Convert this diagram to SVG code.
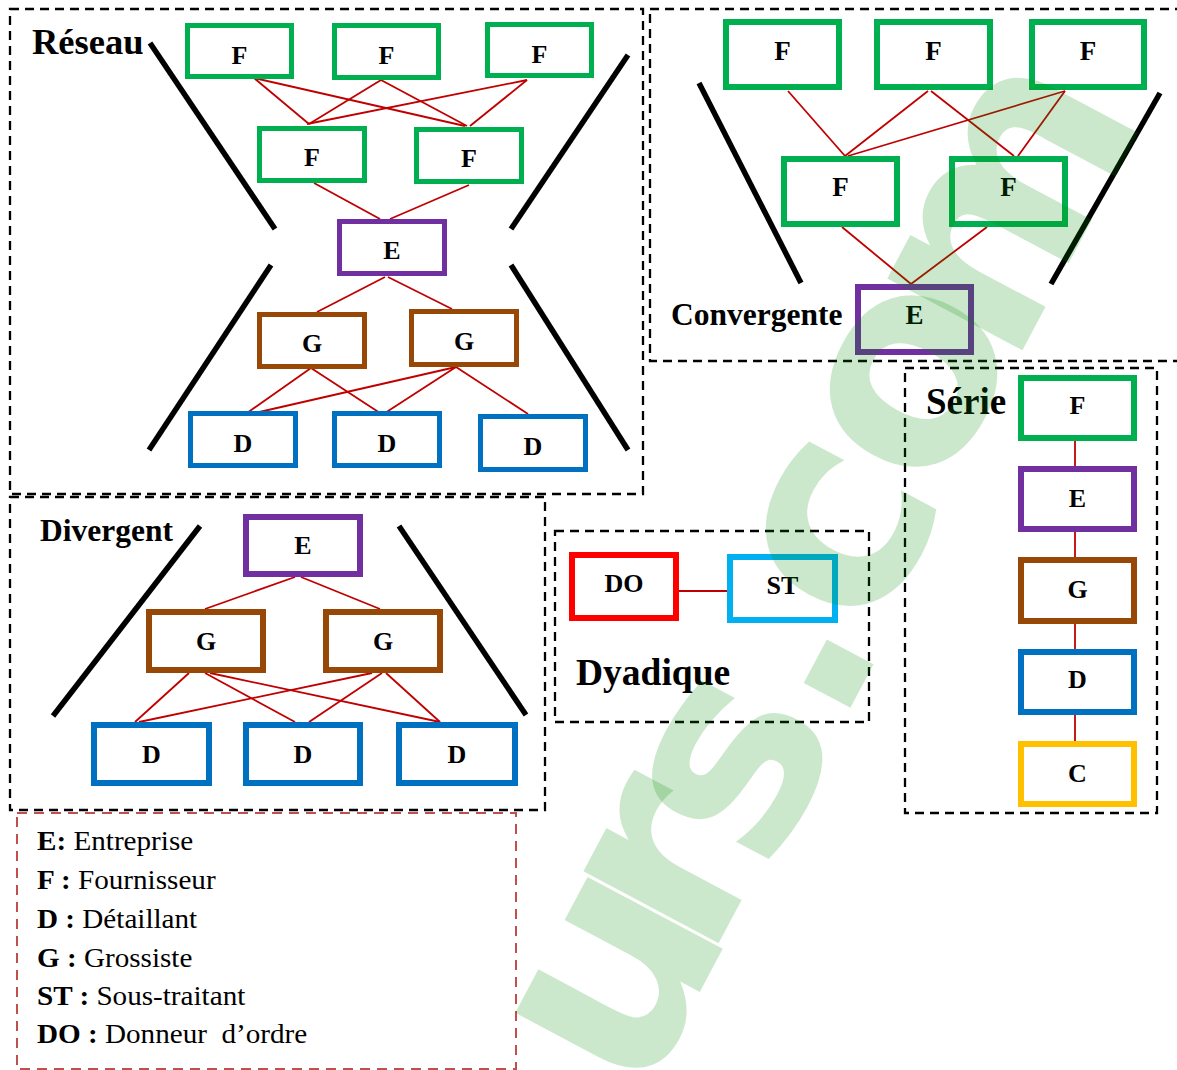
<svg xmlns="http://www.w3.org/2000/svg" width="1177" height="1070" viewBox="0 0 1177 1070">
  <style>
    .frame { fill: none; stroke: #000; stroke-width: 2.3; stroke-dasharray: 9 6; }
    .legend-frame { fill: none; stroke: #c0504d; stroke-width: 2; stroke-dasharray: 10 7; }
    .node rect { fill: #fff; stroke-width: 6; }
    .thin rect { stroke-width: 5; }
    .g-green rect { stroke: #00b050; }
    .g-purple rect { stroke: #7030a0; }
    .g-brown rect { stroke: #974806; }
    .g-blue rect { stroke: #0070c0; }
    .g-red rect { stroke: #ff0000; }
    .g-cyan rect { stroke: #00b0f0; }
    .g-yellow rect { stroke: #ffc000; }
    .node text { font-family: "Liberation Serif", "Times New Roman", serif; font-weight: bold; font-size: 26px; text-anchor: middle; fill: #000; }
    .big text { font-size: 27px; }
    .title { font-family: "Liberation Serif", "Times New Roman", serif; font-weight: bold; fill: #000; }
    .link { stroke: #c00000; stroke-width: 1.8; fill: none; }
    .bar { stroke: #000; stroke-width: 5.5; }
    .legend text { font-family: "Liberation Serif", "Times New Roman", serif; font-size: 26.5px; fill: #000; white-space: pre; }
    .legend tspan.k { font-weight: bold; }
    .wm text { font-family: "DejaVu Sans", "Liberation Sans", sans-serif; font-weight: bold; font-size: 280px; fill: #008a00; fill-opacity: 0.2; text-anchor: middle; }
  </style>

  <rect x="0" y="0" width="1177" height="1070" fill="#fff"/>

  <!-- group frames -->
  <g id="frames">
    <rect class="frame" x="10" y="9" width="633" height="485"/>
    <rect class="frame" x="650" y="9" width="540" height="352"/>
    <rect class="frame" x="10" y="497" width="535" height="313"/>
    <rect class="frame" x="555" y="531" width="314" height="191"/>
    <rect class="frame" x="905" y="368" width="252" height="445"/>
    <rect class="legend-frame" x="17" y="813" width="499" height="256"/>
  </g>

  <!-- section titles -->
  <g id="titles">
    <text class="title" x="32" y="54" font-size="36.5">Réseau</text>
    <text class="title" x="671" y="325" font-size="31.5">Convergente</text>
    <text class="title" x="40" y="541" font-size="31.5">Divergent</text>
    <text class="title" x="576" y="685" font-size="37.5">Dyadique</text>
    <text class="title" x="926" y="414" font-size="37">Série</text>
  </g>

  <!-- funnel strokes -->
  <g id="bars" class="bar">
    <line x1="150" y1="43" x2="275" y2="229"/>
    <line x1="628" y1="55" x2="511" y2="229"/>
    <line x1="271" y1="265" x2="149" y2="450"/>
    <line x1="511" y1="265" x2="628" y2="450"/>
    <line x1="699" y1="83" x2="801" y2="283"/>
    <line x1="1160" y1="93" x2="1051" y2="284"/>
    <line x1="200" y1="526" x2="53" y2="716"/>
    <line x1="399" y1="526" x2="526" y2="715"/>
  </g>

  <!-- connectors -->
  <g id="connectors" class="link">
    <!-- Réseau -->
    <line x1="254" y1="78" x2="309" y2="124"/>
    <line x1="254" y1="78" x2="465" y2="126"/>
    <line x1="381" y1="80" x2="309" y2="124"/>
    <line x1="381" y1="80" x2="467" y2="126"/>
    <line x1="527" y1="80" x2="307" y2="124"/>
    <line x1="527" y1="80" x2="470" y2="126"/>
    <line x1="314" y1="183" x2="380" y2="219"/>
    <line x1="469" y1="185" x2="390" y2="219"/>
    <line x1="385" y1="277" x2="317" y2="312"/>
    <line x1="388" y1="277" x2="452" y2="309"/>
    <line x1="311" y1="368" x2="247" y2="413"/>
    <line x1="311" y1="368" x2="380" y2="413"/>
    <line x1="456" y1="367" x2="255" y2="413"/>
    <line x1="456" y1="367" x2="385" y2="413"/>
    <line x1="456" y1="367" x2="528" y2="414"/>
    <!-- Convergente -->
    <line x1="788" y1="91" x2="845" y2="156"/>
    <line x1="928" y1="91" x2="845" y2="156"/>
    <line x1="931" y1="91" x2="1014" y2="156"/>
    <line x1="1065" y1="91" x2="848" y2="156"/>
    <line x1="1065" y1="91" x2="1018" y2="156"/>
    <line x1="842" y1="227" x2="911" y2="284"/>
    <line x1="987" y1="227" x2="911" y2="284"/>
    <!-- Divergent -->
    <line x1="295" y1="577" x2="205" y2="609"/>
    <line x1="301" y1="577" x2="380" y2="609"/>
    <line x1="189" y1="673" x2="135" y2="722"/>
    <line x1="205" y1="673" x2="295" y2="722"/>
    <line x1="210" y1="673" x2="440" y2="722"/>
    <line x1="372" y1="673" x2="139" y2="722"/>
    <line x1="382" y1="673" x2="309" y2="722"/>
    <line x1="386" y1="673" x2="440" y2="722"/>
    <!-- Dyadique -->
    <line x1="679" y1="591" x2="727" y2="591"/>
    <!-- Série -->
    <line x1="1075" y1="441" x2="1075" y2="466"/>
    <line x1="1075" y1="532" x2="1075" y2="557"/>
    <line x1="1075" y1="624" x2="1075" y2="649"/>
    <line x1="1075" y1="715" x2="1075" y2="741"/>
  </g>

  <!-- Réseau nodes -->
  <g id="res-f1" class="node thin g-green"><rect x="187.5" y="25.5" width="104" height="51"/><text x="239.5" y="64">F</text></g>
  <g id="res-f2" class="node thin g-green"><rect x="334.5" y="25.5" width="104" height="52"/><text x="386.5" y="64">F</text></g>
  <g id="res-f3" class="node thin g-green"><rect x="487.5" y="24.5" width="104" height="51"/><text x="539.5" y="63">F</text></g>
  <g id="res-f4" class="node thin g-green"><rect x="259.5" y="128.5" width="105" height="52"/><text x="312" y="166">F</text></g>
  <g id="res-f5" class="node thin g-green"><rect x="416.5" y="129.5" width="105" height="52"/><text x="469" y="167">F</text></g>
  <g id="res-e" class="node thin g-purple"><rect x="339.5" y="221.5" width="105" height="52"/><text x="392" y="259">E</text></g>
  <g id="res-g1" class="node thin g-brown"><rect x="259.5" y="314.5" width="105" height="52"/><text x="312" y="352">G</text></g>
  <g id="res-g2" class="node thin g-brown"><rect x="411.5" y="311.5" width="105" height="53"/><text x="464" y="350">G</text></g>
  <g id="res-d1" class="node thin g-blue"><rect x="190.5" y="413.5" width="105" height="52"/><text x="243" y="452">D</text></g>
  <g id="res-d2" class="node thin g-blue"><rect x="334.5" y="413.5" width="105" height="52"/><text x="387" y="452">D</text></g>
  <g id="res-d3" class="node thin g-blue"><rect x="480.5" y="416.5" width="105" height="53"/><text x="533" y="455">D</text></g>

  <!-- Convergente nodes -->
  <g id="conv-f1" class="node big g-green"><rect x="726" y="22" width="113" height="65"/><text x="782.5" y="60">F</text></g>
  <g id="conv-f2" class="node big g-green"><rect x="877" y="22" width="113" height="65"/><text x="933.5" y="60">F</text></g>
  <g id="conv-f3" class="node big g-green"><rect x="1032" y="22" width="112" height="65"/><text x="1088" y="60">F</text></g>
  <g id="conv-f4" class="node big g-green"><rect x="784" y="159" width="113" height="65"/><text x="840.5" y="196">F</text></g>
  <g id="conv-f5" class="node big g-green"><rect x="952" y="159" width="113" height="65"/><text x="1008.5" y="196">F</text></g>
  <g id="conv-e" class="node big g-purple"><rect x="858" y="287" width="113" height="65"/><text x="914.5" y="324">E</text></g>

  <!-- Divergent nodes -->
  <g id="div-e" class="node g-purple"><rect x="246" y="517" width="114" height="57"/><text x="303" y="554">E</text></g>
  <g id="div-g1" class="node g-brown"><rect x="149" y="612" width="114" height="58"/><text x="206" y="650">G</text></g>
  <g id="div-g2" class="node g-brown"><rect x="326" y="612" width="114" height="58"/><text x="383" y="650">G</text></g>
  <g id="div-d1" class="node g-blue"><rect x="94" y="725" width="115" height="58"/><text x="151.5" y="763">D</text></g>
  <g id="div-d2" class="node g-blue"><rect x="246" y="725" width="114" height="58"/><text x="303" y="763">D</text></g>
  <g id="div-d3" class="node g-blue"><rect x="399" y="725" width="116" height="58"/><text x="457" y="763">D</text></g>

  <!-- Dyadique nodes -->
  <g id="dya-do" class="node g-red"><rect x="572" y="555" width="104" height="63"/><text x="624" y="592">DO</text></g>
  <g id="dya-st" class="node g-cyan"><rect x="730" y="557" width="105" height="63"/><text x="782.5" y="594">ST</text></g>

  <!-- Série nodes -->
  <g id="ser-f" class="node g-green"><rect x="1021" y="378" width="113" height="60"/><text x="1077.5" y="414">F</text></g>
  <g id="ser-e" class="node g-purple"><rect x="1021" y="469" width="113" height="60"/><text x="1077.5" y="507">E</text></g>
  <g id="ser-g" class="node g-brown"><rect x="1021" y="560" width="113" height="61"/><text x="1077.5" y="598">G</text></g>
  <g id="ser-d" class="node g-blue"><rect x="1021" y="652" width="113" height="60"/><text x="1077.5" y="688">D</text></g>
  <g id="ser-c" class="node g-yellow"><rect x="1021" y="744" width="113" height="60"/><text x="1077.5" y="782">C</text></g>

  <!-- legend -->
  <g id="legend" class="legend" transform="translate(37 0) scale(1.1 1)">
    <text x="0" y="850"><tspan class="k">E:</tspan> Entreprise</text>
    <text x="0" y="889"><tspan class="k">F :</tspan> Fournisseur</text>
    <text x="0" y="928"><tspan class="k">D :</tspan> Détaillant</text>
    <text x="0" y="967"><tspan class="k">G :</tspan> Grossiste</text>
    <text x="0" y="1005"><tspan class="k">ST :</tspan> Sous-traitant</text>
    <text x="0" y="1043"><tspan class="k">DO :</tspan> Donneur  d’ordre</text>
  </g>

  <!-- translucent background lettering -->
  <g id="watermark" class="wm">
    <text transform="translate(687 1016) rotate(-62)">u</text>
    <text transform="translate(740 903) rotate(-62)">r</text>
    <text transform="translate(805 803) rotate(-62)">s</text>
    <text transform="translate(862 686) rotate(-62)">.</text>
    <text transform="translate(910 568) rotate(-62)">c</text>
    <text transform="translate(981 417) rotate(-62)">o</text>
    <text transform="translate(1080 242) rotate(-62)">m</text>
  </g>
</svg>
